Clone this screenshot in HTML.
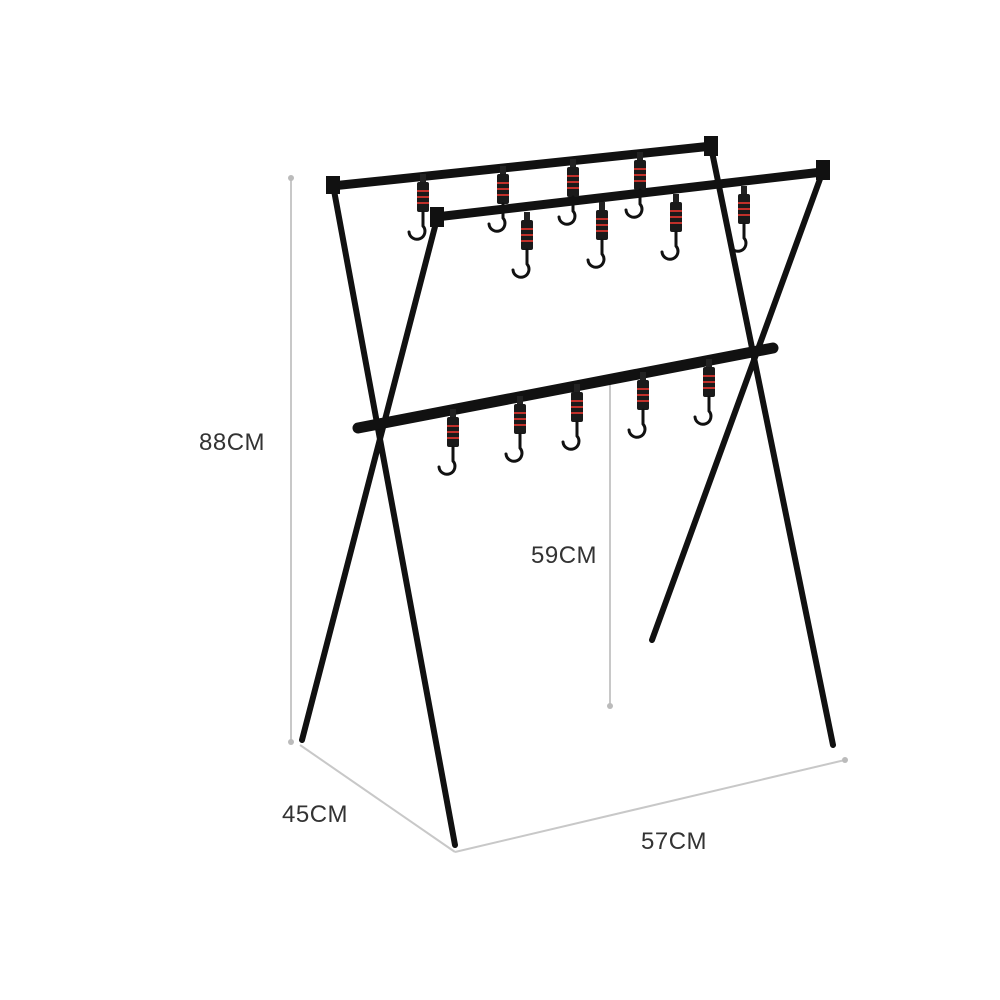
<!DOCTYPE html>
<html><head><style>
html,body{margin:0;padding:0;background:#fff;}
svg{display:block;}
text{font-family:"Liberation Sans",sans-serif;font-size:24px;fill:#333;letter-spacing:0.5px;}
</style></head><body>
<svg width="1000" height="1000" viewBox="0 0 1000 1000">
<defs>
<g id="hk">
<rect x="-3" y="-6" width="6" height="8" fill="#222"/>
<rect x="-6" y="2" width="12" height="30" rx="2" fill="#1a1a1a"/>
<rect x="-6" y="10" width="12" height="2" fill="#c0302a"/>
<rect x="-6" y="16" width="12" height="2" fill="#c0302a"/>
<rect x="-6" y="22" width="12" height="2" fill="#c0302a"/>
<path d="M0,32 v14 a8,8 0 1 1 -14,6" fill="none" stroke="#111" stroke-width="3" stroke-linecap="round"/>
</g>
</defs>
<g stroke="#c8c8c8" stroke-width="2" fill="none">
<line x1="291" y1="178" x2="291" y2="742"/>
<line x1="300" y1="745" x2="455" y2="852"/>
<line x1="455" y1="852" x2="845" y2="760"/>
<line x1="610" y1="385" x2="610" y2="706"/>
</g>
<g fill="#bbb"><circle cx="291" cy="178" r="3"/><circle cx="291" cy="742" r="3"/><circle cx="845" cy="760" r="3"/><circle cx="610" cy="706" r="3"/></g>
<g stroke="#111" stroke-width="6" stroke-linecap="round">
<line x1="333" y1="185" x2="455" y2="845"/>
<line x1="438" y1="215" x2="302" y2="740"/>
<line x1="710" y1="142" x2="833" y2="745"/>
<line x1="824" y1="168" x2="652" y2="640"/>
</g>
<g stroke="#111" stroke-linecap="round">
<line x1="332" y1="186" x2="712" y2="146" stroke-width="9"/>
<line x1="436" y1="217" x2="822" y2="172" stroke-width="9"/>
<line x1="358" y1="428" x2="773" y2="348" stroke-width="11"/>
</g>
<g fill="#111">
<rect x="326" y="176" width="14" height="18"/><rect x="704" y="136" width="14" height="20"/>
<rect x="430" y="207" width="14" height="20"/><rect x="816" y="160" width="14" height="20"/>
</g>
<use href="#hk" x="423" y="180"/><use href="#hk" x="503" y="172"/><use href="#hk" x="573" y="165"/><use href="#hk" x="640" y="158"/>
<use href="#hk" x="527" y="218"/><use href="#hk" x="602" y="208"/><use href="#hk" x="676" y="200"/><use href="#hk" x="744" y="192"/>
<use href="#hk" x="453" y="415"/><use href="#hk" x="520" y="402"/><use href="#hk" x="577" y="390"/><use href="#hk" x="643" y="378"/><use href="#hk" x="709" y="365"/>
<text x="199" y="450">88CM</text>
<text x="531" y="563">59CM</text>
<text x="282" y="822">45CM</text>
<text x="641" y="849">57CM</text>
</svg>
</body></html>
